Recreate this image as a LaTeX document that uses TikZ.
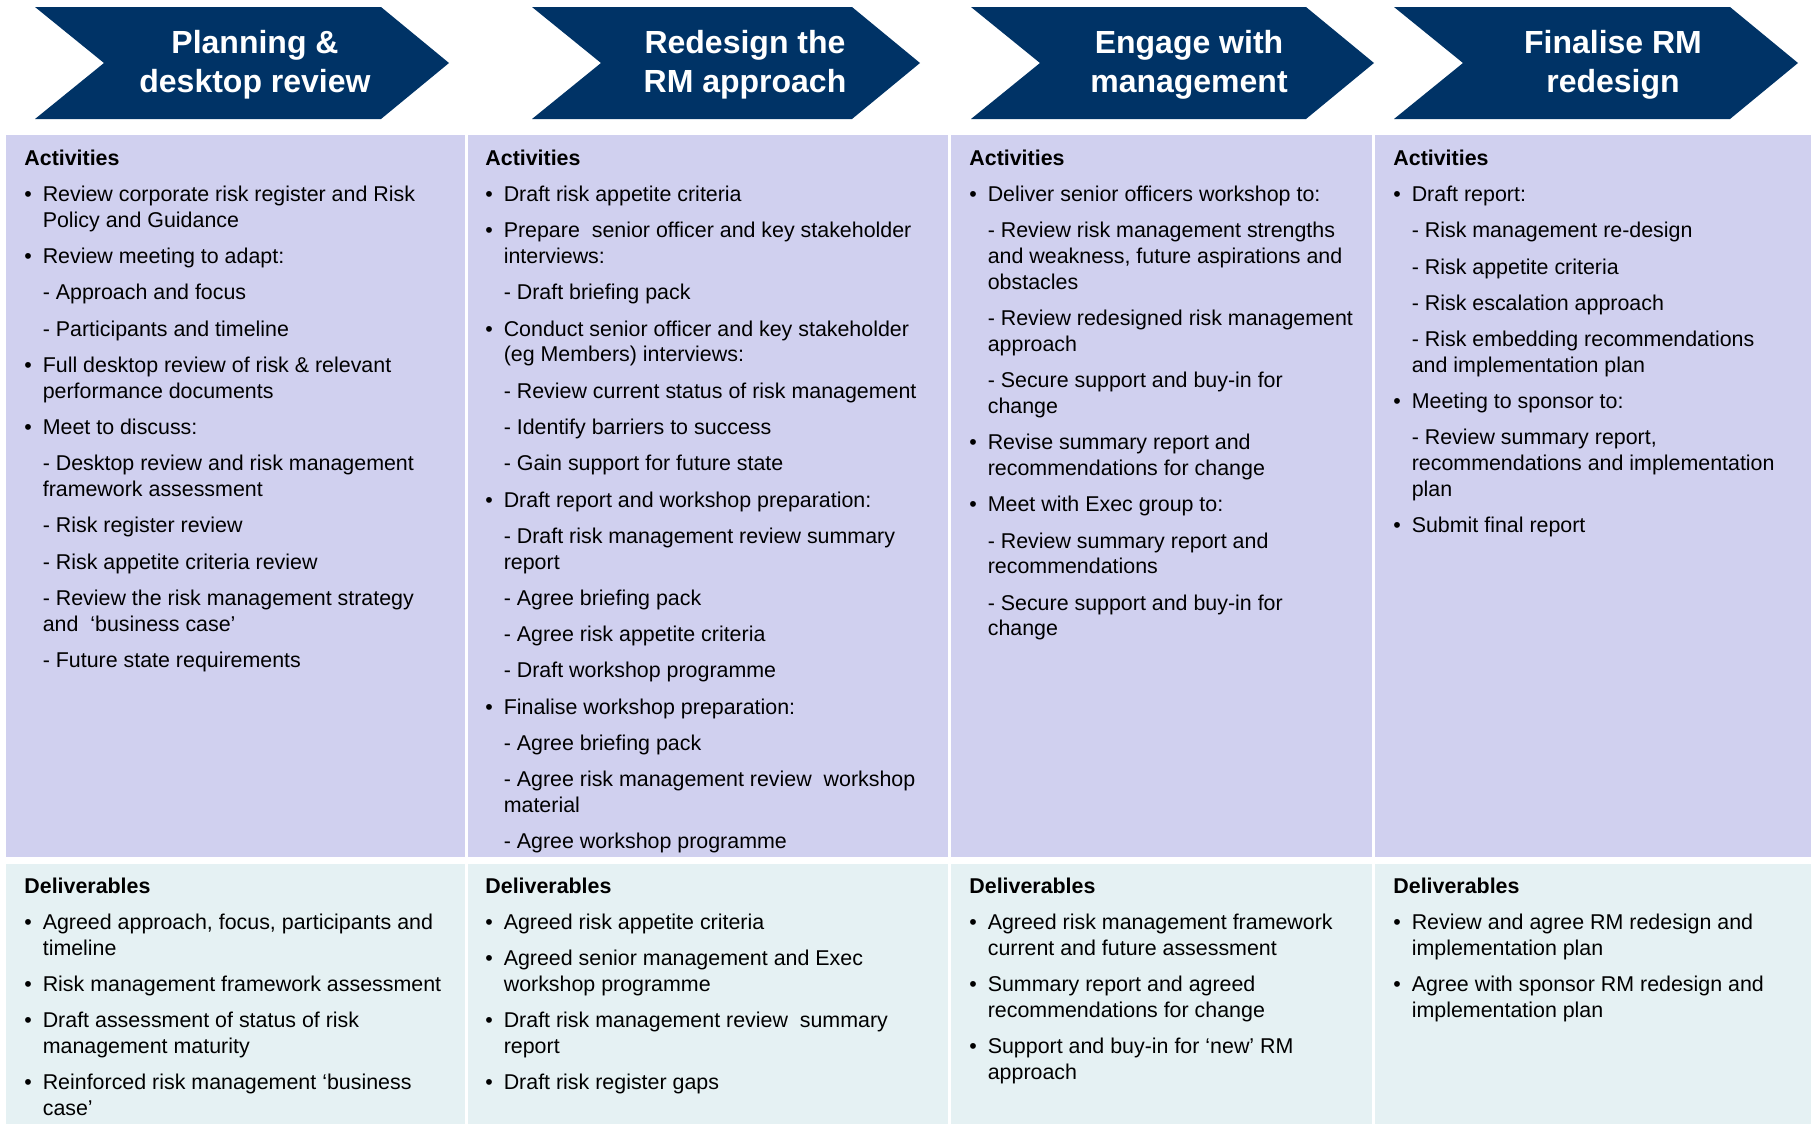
\documentclass[tikz,border=0pt]{standalone}
\usepackage{fontspec}
\setmainfont{Liberation Sans}
\definecolor{navy}{RGB}{0,51,102}
\definecolor{actfill}{RGB}{208,208,239}
\definecolor{delfill}{RGB}{229,241,243}
\newcommand\bl{\makebox[9.2pt][l]{\textbullet}}
\newcommand\ind{\makebox[9.2pt]{}}
\newcommand\gap{\\[5.25pt]}
\tikzset{
  phase/.style={fill=navy},
  phasetitle/.style={text=white,align=center,font=\bfseries\fontsize{16}{19.5}\selectfont},
  colhead/.style={anchor=north west,align=left,inner sep=0pt,font=\fontsize{10.7}{12.88}\selectfont},
}
\begin{document}
\begin{tikzpicture}[x=0.5pt,y=-0.5pt]
\useasboundingbox(0,0)rectangle(1812,1124);
% panels
\fill[actfill](6,135)rectangle(465,857);
\fill[actfill](468,135)rectangle(948,857);
\fill[actfill](951,135)rectangle(1372,857);
\fill[actfill](1375,135)rectangle(1811,857);
\fill[delfill](6,864)rectangle(465,1124);
\fill[delfill](468,864)rectangle(948,1124);
\fill[delfill](951,864)rectangle(1372,1124);
\fill[delfill](1375,864)rectangle(1811,1124);
% chevrons
\foreach \l/\r in {35/381,532/852,971/1306,1394/1730}{
  \fill[phase](\l,7)--(\r,7)--(\r+68,63)--(\r,119)--(\l,119)--(\l+69,63)--cycle;
}
\node[phasetitle](t1)at(255,65){Planning \&\\desktop review};
\node[phasetitle](t2)at(745,65){Redesign the\\RM approach};
\node[phasetitle](t3)at(1189,65){Engage with\\management};
\node[phasetitle](t4)at(1613,65){Finalise RM\\redesign};
% activities
\node[colhead](a1)at(24,149.5){\textbf{Activities}\gap
\bl Review corporate risk register and Risk\\\ind Policy and Guidance\gap
\bl Review meeting to adapt:\gap
\ind - Approach and focus\gap
\ind - Participants and timeline\gap
\bl Full desktop review of risk \& relevant\\\ind performance documents\gap
\bl Meet to discuss:\gap
\ind - Desktop review and risk management\\\ind framework assessment\gap
\ind - Risk register review\gap
\ind - Risk appetite criteria review\gap
\ind - Review the risk management strategy\\\ind and \ ‘business case’\gap
\ind - Future state requirements};
\node[colhead](a2)at(485,149.5){\textbf{Activities}\gap
\bl Draft risk appetite criteria\gap
\bl Prepare \ senior officer and key stakeholder\\\ind interviews:\gap
\ind - Draft briefing pack\gap
\bl Conduct senior officer and key stakeholder\\\ind (eg Members) interviews:\gap
\ind - Review current status of risk management\gap
\ind - Identify barriers to success\gap
\ind - Gain support for future state\gap
\bl Draft report and workshop preparation:\gap
\ind - Draft risk management review summary\\\ind report\gap
\ind - Agree briefing pack\gap
\ind - Agree risk appetite criteria\gap
\ind - Draft workshop programme\gap
\bl Finalise workshop preparation:\gap
\ind - Agree briefing pack\gap
\ind - Agree risk management review \ workshop\\\ind material\gap
\ind - Agree workshop programme};
\node[colhead](a3)at(969,149.5){\textbf{Activities}\gap
\bl Deliver senior officers workshop to:\gap
\ind - Review risk management strengths\\\ind and weakness, future aspirations and\\\ind obstacles\gap
\ind - Review redesigned risk management\\\ind approach\gap
\ind - Secure support and buy-in for\\\ind change\gap
\bl Revise summary report and\\\ind recommendations for change\gap
\bl Meet with Exec group to:\gap
\ind - Review summary report and\\\ind recommendations\gap
\ind - Secure support and buy-in for\\\ind change};
\node[colhead](a4)at(1393,149.5){\textbf{Activities}\gap
\bl Draft report:\gap
\ind - Risk management re-design\gap
\ind - Risk appetite criteria\gap
\ind - Risk escalation approach\gap
\ind - Risk embedding recommendations\\\ind and implementation plan\gap
\bl Meeting to sponsor to:\gap
\ind - Review summary report,\\\ind recommendations and implementation\\\ind plan\gap
\bl Submit final report};
% deliverables
\node[colhead](d1)at(24,877.5){\textbf{Deliverables}\gap
\bl Agreed approach, focus, participants and\\\ind timeline\gap
\bl Risk management framework assessment\gap
\bl Draft assessment of status of risk\\\ind management maturity\gap
\bl Reinforced risk management ‘business\\\ind case’};
\node[colhead](d2)at(485,877.5){\textbf{Deliverables}\gap
\bl Agreed risk appetite criteria\gap
\bl Agreed senior management and Exec\\\ind workshop programme\gap
\bl Draft risk management review \ summary\\\ind report\gap
\bl Draft risk register gaps};
\node[colhead](d3)at(969,877.5){\textbf{Deliverables}\gap
\bl Agreed risk management framework\\\ind current and future assessment\gap
\bl Summary report and agreed\\\ind recommendations for change\gap
\bl Support and buy-in for ‘new’ RM\\\ind approach};
\node[colhead](d4)at(1393,877.5){\textbf{Deliverables}\gap
\bl Review and agree RM redesign and\\\ind implementation plan\gap
\bl Agree with sponsor RM redesign and\\\ind implementation plan};
\end{tikzpicture}
\end{document}
